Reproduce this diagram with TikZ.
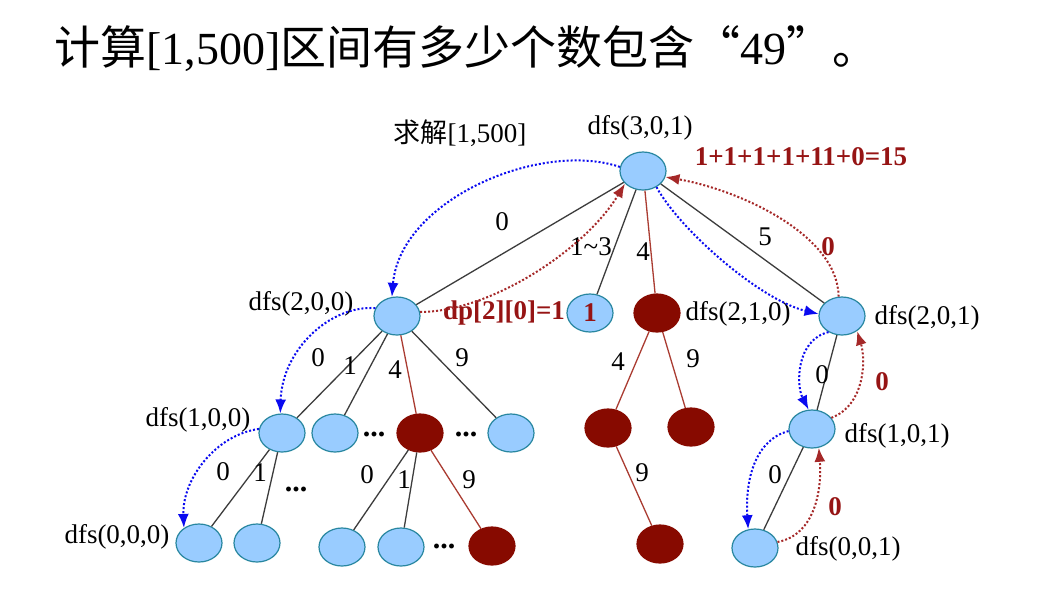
\documentclass[tikz,border=0pt]{standalone}
\usepackage{fontspec}
\setmainfont{Liberation Serif}
\newfontfamily\cjk{Noto Sans CJK SC}
\usetikzlibrary{shapes.geometric,arrows.meta}
\definecolor{nodeblue}{RGB}{153,204,255}
\definecolor{nodeborder}{RGB}{40,135,160}
\definecolor{darkred}{RGB}{135,10,0}
\definecolor{edgered}{RGB}{170,60,50}
\definecolor{textred}{RGB}{150,20,20}
\definecolor{arrowred}{RGB}{165,40,40}
\definecolor{arrowblue}{RGB}{10,10,240}
\definecolor{linegray}{RGB}{60,60,60}
\begin{document}
\begin{tikzpicture}[x=1pt,y=-1pt,
  lb/.style={ellipse,draw=nodeborder,fill=nodeblue,minimum width=46pt,minimum height=38pt,inner sep=0pt,line width=1.2pt},
  dr/.style={ellipse,draw=darkred,fill=darkred,minimum width=46pt,minimum height=38pt,inner sep=0pt,line width=1.2pt},
  lbl/.style={font=\fontsize{27}{31}\selectfont,inner sep=0pt},
  rlbl/.style={font=\fontsize{27}{31}\selectfont\bfseries,text=textred,inner sep=0pt},
  dotsl/.style={font=\fontsize{30}{34}\selectfont\bfseries,inner sep=0pt},
  ge/.style={draw=linegray,line width=1.3pt},
  re/.style={draw=edgered,line width=1.3pt},
  barr/.style={draw=arrowblue,line width=2pt,dash pattern=on 2pt off 2pt,-{Latex[length=14pt,width=11pt]}},
  rarr/.style={draw=arrowred,line width=2pt,dash pattern=on 2pt off 2pt,-{Latex[length=14pt,width=11pt]}}
]
\fill[white] (0,0) rectangle (1058,606);
\useasboundingbox (0,0) rectangle (1058,606);

% title
\node[anchor=west,inner sep=0pt,font=\fontsize{46}{50}\selectfont] (title) at (54,49)
  {{\cjk 计算}[1,500]{\cjk 区间有多少个数包含“}49{\cjk ”。}};

% level 0
\node[lb] (root) at (643,171) {};
\node[lbl] (lroot) at (640,128) {dfs(3,0,1)};
\node[lbl] (qiujie) at (460,133) {{\cjk 求解}[1,500]};
\node[rlbl] (sum) at (801,157) {1+1+1+1+11+0=15};

% level 1
\node[lb] (n200) at (397,316) {};
\node[lbl] (l200) at (301,304) {dfs(2,0,0)};
\node[lb,font=\fontsize{27}{31}\selectfont\bfseries,text=textred] (n1) at (590,313) {1};
\node[dr] (n210) at (657,313) {};
\node[lbl] (l210) at (738,314) {dfs(2,1,0)};
\node[lb] (n201) at (842,316) {};
\node[lbl] (l201) at (927,318) {dfs(2,0,1)};
\node[rlbl] (dp) at (504,313) {dp[2][0]=1};

% level 2
\node[lb] (n100) at (282,433) {};
\node[lbl] (l100) at (198,420) {dfs(1,0,0)};
\node[lb] (n3b) at (335,433) {};
\node[dotsl] (d1) at (374,434) {...};
\node[dr] (n3r) at (420,433) {};
\node[dotsl] (d2) at (466,434) {...};
\node[lb] (n3c) at (511,433) {};
\node[dr] (n3r2) at (608,428) {};
\node[dr] (n3r3) at (691,427) {};
\node[lb] (n101) at (812,429) {};
\node[lbl] (l101) at (897,436) {dfs(1,0,1)};

% level 3
\node[lb] (n000) at (199,543) {};
\node[lbl] (l000) at (117,537) {dfs(0,0,0)};
\node[lb] (n4b) at (257,543) {};
\node[dotsl] (d3) at (296,489) {...};
\node[lb] (n4c) at (342,547) {};
\node[lb] (n4d) at (401,547) {};
\node[dotsl] (d4) at (444,546) {...};
\node[dr] (n4r) at (492,546) {};
\node[dr] (n4r2) at (660,544) {};
\node[lb] (n001) at (755,548) {};
\node[lbl] (l001) at (848,549) {dfs(0,0,1)};

% tree edges
\draw[ge] (root) -- (n200);
\draw[ge] (root) -- (n1);
\draw[re] (root) -- (n210);
\draw[ge] (root) -- (n201);
\draw[ge] (n200) -- (n100);
\draw[ge] (n200) -- (n3b);
\draw[re] (n200) -- (n3r);
\draw[ge] (n200) -- (n3c);
\draw[ge] (n100) -- (n000);
\draw[ge] (n100) -- (n4b);
\draw[ge] (n3r) -- (n4c);
\draw[ge] (n3r) -- (n4d);
\draw[re] (n3r) -- (n4r);
\draw[re] (n210) -- (n3r2);
\draw[re] (n210) -- (n3r3);
\draw[re] (n3r2) -- (n4r2);
\draw[ge] (n201) -- (n101);
\draw[ge] (n101) -- (n001);

% edge labels
\node[lbl] (e0) at (502,222) {0};
\node[lbl] (e13) at (591,247) {1\textasciitilde3};
\node[lbl] (e4) at (643,252) {4};
\node[lbl] (e5) at (765,237) {5};
\node[rlbl] (er0) at (828,247) {0};
\node[lbl] (f0) at (318,358) {0};
\node[lbl] (f1) at (350,366) {1};
\node[lbl] (f4) at (395,370) {4};
\node[lbl] (f9) at (462,358) {9};
\node[lbl] (g4) at (618,362) {4};
\node[lbl] (g9) at (693,359) {9};
\node[lbl] (h0) at (822,375) {0};
\node[rlbl] (hr0) at (882,382) {0};
\node[lbl] (i0) at (223,472) {0};
\node[lbl] (i1) at (260,473) {1};
\node[lbl] (j0) at (367,475) {0};
\node[lbl] (j1) at (404,480) {1};
\node[lbl] (j9) at (469,480) {9};
\node[lbl] (k9) at (642,473) {9};
\node[lbl] (m0) at (775,475) {0};
\node[rlbl] (mr0) at (835,507) {0};

% dotted recursion arrows
\draw[barr] (root.170) .. controls (540,140) and (400,200) .. (n200.105);
\draw[rarr] (n200.10) .. controls (490,312) and (585,250) .. (root.215);
\draw[barr] (root.-50) .. controls (680,230) and (760,300) .. (n201.175);
\draw[rarr] (n201.100) .. controls (838,235) and (740,190) .. (root.-15);
\draw[barr] (n200.160) .. controls (330,305) and (282,350) .. (n100.95);
\draw[barr] (n100.170) .. controls (215,435) and (182,480) .. (n000.135);
\draw[barr] (n201.230) .. controls (796,340) and (796,385) .. (n101.100);
\draw[rarr] (n101.30) .. controls (865,405) and (866,360) .. (n201.-45);
\draw[barr] (n101.185) .. controls (755,440) and (745,480) .. (n001.110);
\draw[rarr] (n001.15) .. controls (815,535) and (822,490) .. (n101.-70);
\end{tikzpicture}
\end{document}
